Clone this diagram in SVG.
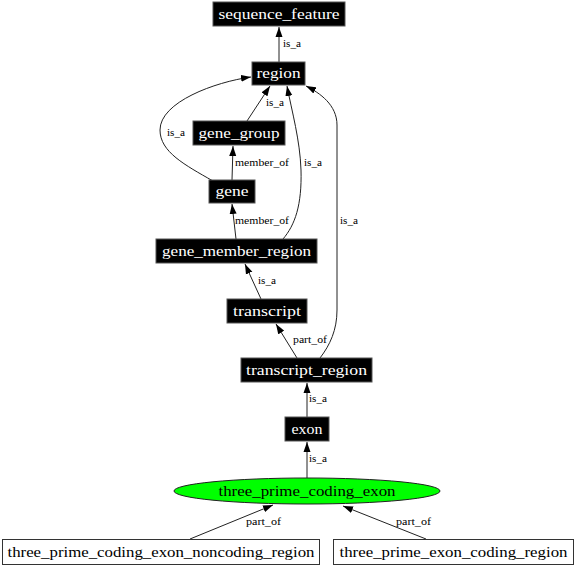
<svg xmlns="http://www.w3.org/2000/svg" width="576" height="567" viewBox="0 0 576 567">
<style>
.bk rect{fill:#000;stroke:#555;stroke-width:1}
.bk text{fill:#fff;font-family:"Liberation Serif",serif;font-size:14px;text-anchor:middle}
.wh rect{fill:#fff;stroke:#333;stroke-width:1}
.wh text{fill:#000;font-family:"Liberation Serif",serif;font-size:14px;text-anchor:middle}
.e path{fill:none;stroke:#222;stroke-width:1;marker-end:url(#ah)}
.e text{font-family:"Liberation Serif",serif;font-size:10px;fill:#000}
</style>
<defs>
<marker id="ah" markerWidth="10" markerHeight="8" refX="10" refY="4" orient="auto" markerUnits="userSpaceOnUse">
<path d="M0,0.5 L10,4 L0,7.5 Z" fill="#000"/>
</marker>
</defs>
<rect width="576" height="567" fill="#fff"/>
<g id="edges" class="e">
<path d="M279,62 L279,27"/>
<text x="283" y="47" textLength="18" lengthAdjust="spacingAndGlyphs">is_a</text>
<path d="M247,121 L270,86"/>
<text x="266" y="106" textLength="18" lengthAdjust="spacingAndGlyphs">is_a</text>
<path d="M213,181 C185,165 160,152 160,130 C160,102 215,82 251,77"/>
<text x="167" y="136" textLength="18" lengthAdjust="spacingAndGlyphs">is_a</text>
<path d="M232,180 L233,146"/>
<text x="235" y="166" textLength="54" lengthAdjust="spacingAndGlyphs">member_of</text>
<path d="M283,239 C295,225 302,205 301,170 C300,140 292,112 287,86"/>
<text x="304" y="166" textLength="18" lengthAdjust="spacingAndGlyphs">is_a</text>
<path d="M236,239 L232,204"/>
<text x="235" y="224" textLength="54" lengthAdjust="spacingAndGlyphs">member_of</text>
<path d="M320,358 C330,345 337,330 337,310 L337,125 C337,105 320,93 306,86"/>
<text x="340" y="224" textLength="18" lengthAdjust="spacingAndGlyphs">is_a</text>
<path d="M261,299 L245,264"/>
<text x="258" y="284" textLength="18" lengthAdjust="spacingAndGlyphs">is_a</text>
<path d="M297,358 L276,324"/>
<text x="293" y="343" textLength="34" lengthAdjust="spacingAndGlyphs">part_of</text>
<path d="M307,417 L307,383"/>
<text x="309" y="402" textLength="18" lengthAdjust="spacingAndGlyphs">is_a</text>
<path d="M307,478 L307,442"/>
<text x="309" y="462" textLength="18" lengthAdjust="spacingAndGlyphs">is_a</text>
<path d="M190,539 L273,505"/>
<text x="246" y="525" textLength="35" lengthAdjust="spacingAndGlyphs">part_of</text>
<path d="M426,539 L343,506"/>
<text x="396" y="525" textLength="35" lengthAdjust="spacingAndGlyphs">part_of</text>
</g>
<g id="sequence_feature" class="bk"><rect x="213" y="2" width="132" height="24"/><text x="279" y="19" textLength="121" lengthAdjust="spacingAndGlyphs">sequence_feature</text></g>
<g id="region" class="bk"><rect x="252" y="62" width="53" height="23"/><text x="278.5" y="78" textLength="44" lengthAdjust="spacingAndGlyphs">region</text></g>
<g id="gene_group" class="bk"><rect x="193" y="121" width="92" height="24"/><text x="239" y="138" textLength="81" lengthAdjust="spacingAndGlyphs">gene_group</text></g>
<g id="gene" class="bk"><rect x="209" y="180" width="46" height="23"/><text x="232" y="196" textLength="33" lengthAdjust="spacingAndGlyphs">gene</text></g>
<g id="gene_member_region" class="bk"><rect x="156" y="239" width="161" height="24"/><text x="236.5" y="256" textLength="149" lengthAdjust="spacingAndGlyphs">gene_member_region</text></g>
<g id="transcript" class="bk"><rect x="227" y="299" width="80" height="24"/><text x="267" y="316" textLength="68" lengthAdjust="spacingAndGlyphs">transcript</text></g>
<g id="transcript_region" class="bk"><rect x="241" y="358" width="131" height="24"/><text x="306.5" y="375" textLength="121" lengthAdjust="spacingAndGlyphs">transcript_region</text></g>
<g id="exon" class="bk"><rect x="285" y="417" width="44" height="24"/><text x="307" y="434" textLength="31" lengthAdjust="spacingAndGlyphs">exon</text></g>
<g id="three_prime_coding_exon"><ellipse cx="307" cy="491" rx="133" ry="13" fill="#00ff00" stroke="#222"/><text x="307" y="496" text-anchor="middle" font-family="Liberation Serif, serif" font-size="14" textLength="177" lengthAdjust="spacingAndGlyphs">three_prime_coding_exon</text></g>
<g id="three_prime_coding_exon_noncoding_region" class="wh"><rect x="2.5" y="539.5" width="317" height="25"/><text x="161" y="557" textLength="307" lengthAdjust="spacingAndGlyphs">three_prime_coding_exon_noncoding_region</text></g>
<g id="three_prime_exon_coding_region" class="wh"><rect x="333.5" y="539.5" width="240" height="25"/><text x="453.5" y="557" textLength="228" lengthAdjust="spacingAndGlyphs">three_prime_exon_coding_region</text></g>
</svg>
